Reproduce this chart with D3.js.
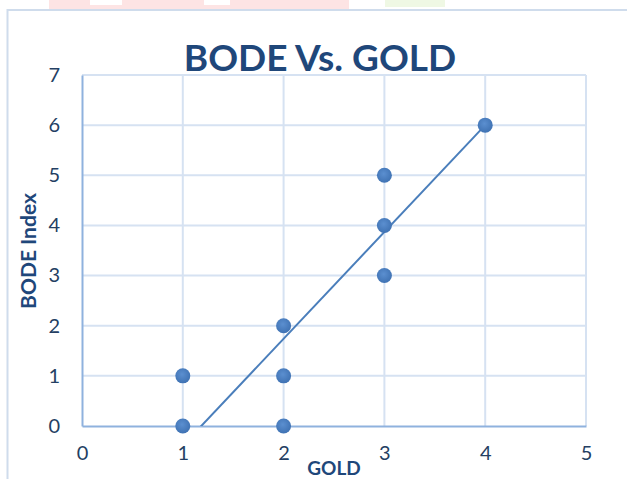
<!DOCTYPE html>
<html><head><meta charset="utf-8">
<script src="https://cdn.jsdelivr.net/npm/d3@7"></script>
<style>body{margin:0;background:#fff}svg{display:block}</style>
</head><body>
<script>
const goldValues = [1, 1, 2, 2, 2, 3, 3, 3, 4];
const bodeValues = [0, 1, 0, 1, 2, 3, 4, 5, 6];
const xTicks = [0, 1, 2, 3, 4, 5];
const yTicks = [0, 1, 2, 3, 4, 5, 6, 7];
const trendSlope = [2.13];
const trendIntercept = [-2.52];
const titleText = "BODE Vs. GOLD";
const xTitle = "GOLD";
const yTitle = "BODE Index";

const W = 627, H = 479;
const svg = d3.select("body").append("svg").attr("width", W).attr("height", H);

// faint background fragments at top
svg.append("rect").attr("x", 49).attr("y", 0).attr("width", 300).attr("height", 9).attr("fill", "#fde4e4");
svg.append("rect").attr("x", 90).attr("y", 0).attr("width", 32).attr("height", 5).attr("fill", "#fff");
svg.append("rect").attr("x", 204).attr("y", 0).attr("width", 26).attr("height", 5).attr("fill", "#fff");
svg.append("rect").attr("x", 385).attr("y", 0).attr("width", 60).attr("height", 7).attr("fill", "#eff8e4");

// chart area frame
svg.append("rect").attr("x", 7.5).attr("y", 10).attr("width", 700).attr("height", 600)
  .attr("fill", "#fff").attr("stroke", "#cfdcec").attr("stroke-width", 2);

const x = d3.scaleLinear().domain([0, 5]).range([82, 586]);
const y = d3.scaleLinear().domain([0, 7]).range([426, 75]);

const grid = svg.append("g");
grid.selectAll("line.v").data(xTicks.slice(1)).join("line")
  .attr("x1", d => x(d)).attr("x2", d => x(d)).attr("y1", y(7)).attr("y2", y(0))
  .attr("stroke", "#d6e2f2").attr("stroke-width", 2);
grid.selectAll("line.h").data(yTicks.slice(1)).join("line")
  .attr("x1", x(0)).attr("x2", x(5)).attr("y1", d => y(d)).attr("y2", d => y(d))
  .attr("stroke", "#d6e2f2").attr("stroke-width", 2);

const fmt = d3.format("d");
// axes
const xAxis = svg.append("g").attr("transform", `translate(0,${y(0)})`)
  .call(d3.axisBottom(x).tickValues(xTicks).tickFormat(fmt).tickSize(0).tickPadding(20));
xAxis.select(".domain").attr("stroke", "#8fb2de").attr("stroke-width", 2);
xAxis.selectAll("text").attr("font-family", "Lato, sans-serif").attr("font-size", 20).attr("fill", "#243f63");

const yAxis = svg.append("g").attr("transform", `translate(${x(0)},0)`)
  .call(d3.axisLeft(y).tickValues(yTicks).tickFormat(fmt).tickSize(0).tickPadding(22));
yAxis.select(".domain").attr("stroke", "#8fb2de").attr("stroke-width", 2);
yAxis.selectAll("text").attr("font-family", "Lato, sans-serif").attr("font-size", 20).attr("fill", "#243f63");

// trendline clipped to plot area
svg.append("clipPath").attr("id", "pc").append("rect")
  .attr("x", x(0)).attr("y", y(7)).attr("width", x(5) - x(0)).attr("height", y(0) - y(7));
const xr = d3.extent(goldValues);
svg.append("line").attr("clip-path", "url(#pc)")
  .attr("x1", x(xr[0])).attr("y1", y(trendSlope[0] * xr[0] + trendIntercept[0]))
  .attr("x2", x(xr[1])).attr("y2", y(trendSlope[0] * xr[1] + trendIntercept[0]))
  .attr("stroke", "#4a7ebb").attr("stroke-width", 2);

// points
const defs = svg.append("defs");
const rg = defs.append("radialGradient").attr("id", "dot").attr("cx", "45%").attr("cy", "40%").attr("r", "60%");
rg.append("stop").attr("offset", "0%").attr("stop-color", "#5b8fd0");
rg.append("stop").attr("offset", "100%").attr("stop-color", "#3f72b3");
svg.selectAll("circle.pt").data(goldValues.map((g, i) => [g, bodeValues[i]])).join("circle")
  .attr("cx", d => x(d[0])).attr("cy", d => y(d[1])).attr("r", 7.5).attr("fill", "url(#dot)");

// titles
svg.append("text").attr("x", 320).attr("y", 71).attr("text-anchor", "middle")
  .attr("font-family", "Lato, sans-serif").attr("font-weight", "bold").attr("font-size", 37)
  .attr("fill", "#1f477a").text(titleText);
svg.append("text").attr("x", 334).attr("y", 475).attr("text-anchor", "middle")
  .attr("font-family", "Lato, sans-serif").attr("font-weight", "bold").attr("font-size", 19)
  .attr("fill", "#1f477a").text(xTitle);
svg.append("text").attr("transform", "translate(36,251) rotate(-90)").attr("text-anchor", "middle")
  .attr("font-family", "Lato, sans-serif").attr("font-weight", "bold").attr("font-size", 21)
  .attr("fill", "#1f477a").text(yTitle);
</script>
</body></html>
